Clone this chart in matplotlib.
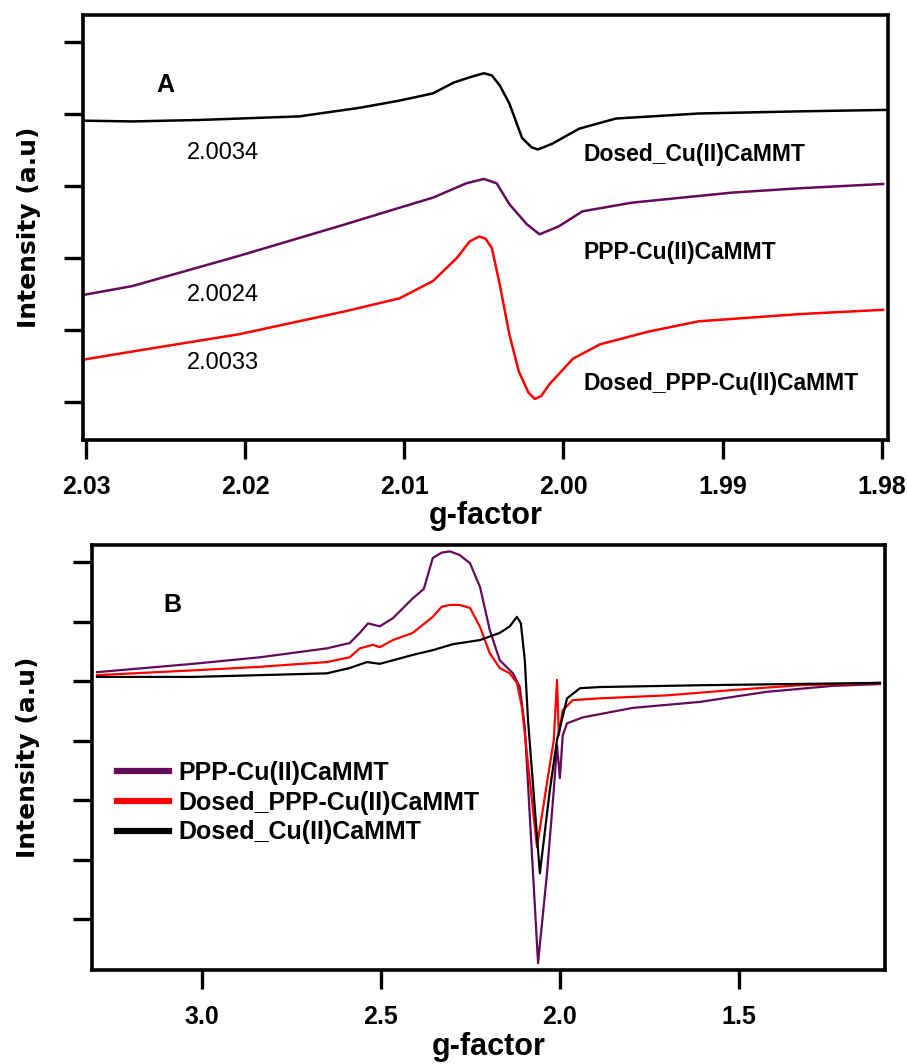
import matplotlib
matplotlib.use("Agg")
import matplotlib.pyplot as plt

# ---------------- panel A data (g-factor, intensity a.u.) ----------------
gA_black = [2.0301, 2.0271, 2.0229, 2.0166, 2.0128, 2.0103, 2.0082, 2.0069, 2.0058,
            2.0050, 2.0045, 2.0040, 2.0034, 2.0026, 2.0020, 2.0016, 2.0007, 1.9990,
            1.9967, 1.9915, 1.9852, 1.9797]
yA_black = [3.91, 3.90, 3.92, 3.97, 4.09, 4.19, 4.29, 4.44, 4.52,
            4.57, 4.54, 4.40, 4.15, 3.67, 3.54, 3.51, 3.59, 3.80,
            3.94, 4.01, 4.04, 4.06]

gA_purple = [2.0301, 2.0271, 2.0204, 2.0137, 2.0103, 2.0082, 2.0061, 2.0050, 2.0042,
             2.0034, 2.0023, 2.0015, 2.0003, 1.9988, 1.9957, 1.9894, 1.9852, 1.9799]
yA_purple = [1.49, 1.61, 2.03, 2.47, 2.70, 2.84, 3.04, 3.10, 3.04,
             2.75, 2.47, 2.33, 2.44, 2.65, 2.77, 2.91, 2.97, 3.03]

gA_red = [2.0301, 2.0271, 2.0204, 2.0137, 2.0103, 2.0082, 2.0067, 2.0059, 2.0053,
          2.0049, 2.0045, 2.0040, 2.0034, 2.0028, 2.0022, 2.0018, 2.0014, 2.0009,
          1.9994, 1.9977, 1.9946, 1.9915, 1.9852, 1.9799]
yA_red = [0.59, 0.70, 0.94, 1.26, 1.44, 1.68, 2.00, 2.23, 2.30,
          2.27, 2.14, 1.63, 0.94, 0.42, 0.13, 0.04, 0.08, 0.24,
          0.60, 0.80, 0.98, 1.12, 1.22, 1.28]

# ---------------- panel B data ----------------
gB_purple = [3.293, 3.025, 2.838, 2.651, 2.587, 2.559, 2.536, 2.503, 2.466, 2.411,
             2.380, 2.355, 2.330, 2.307, 2.280, 2.251, 2.223, 2.196, 2.168, 2.131,
             2.112, 2.098, 2.061, 2.036, 2.017, 2.008, 2.000, 1.992, 1.980, 1.936,
             1.796, 1.609, 1.422, 1.237, 1.106]
yB_purple = [0.15, 0.29, 0.40, 0.55, 0.64, 0.81, 0.97, 0.92, 1.06, 1.39,
             1.55, 2.07, 2.16, 2.18, 2.12, 1.98, 1.58, 0.86, 0.35, 0.13,
             -0.10, -0.77, -4.74, -3.23, -1.83, -1.08, -1.63, -0.91, -0.71, -0.61,
             -0.45, -0.35, -0.18, -0.08, -0.05]

gB_red = [3.293, 3.025, 2.838, 2.651, 2.587, 2.559, 2.522, 2.503, 2.466, 2.411,
          2.355, 2.330, 2.307, 2.280, 2.251, 2.223, 2.196, 2.168, 2.140, 2.120,
          2.106, 2.064, 2.036, 2.017, 2.008, 2.003, 1.992, 1.964, 1.888, 1.701,
          1.517, 1.330, 1.106]
yB_red = [0.10, 0.18, 0.24, 0.32, 0.40, 0.55, 0.61, 0.57, 0.69, 0.81,
          1.08, 1.25, 1.28, 1.28, 1.23, 0.91, 0.47, 0.22, 0.13, -0.03,
          -0.44, -2.79, -1.71, -0.99, 0.02, -0.91, -0.49, -0.32, -0.29, -0.24,
          -0.15, -0.07, -0.03]

gB_black = [3.293, 3.025, 2.838, 2.651, 2.587, 2.539, 2.503, 2.466, 2.411, 2.355,
            2.299, 2.223, 2.168, 2.140, 2.120, 2.109, 2.098, 2.089, 2.056, 2.028,
            2.008, 1.980, 1.944, 1.888, 1.609, 1.106]
yB_black = [0.07, 0.07, 0.10, 0.13, 0.22, 0.32, 0.29, 0.35, 0.44, 0.52,
            0.62, 0.69, 0.81, 0.92, 1.08, 0.97, 0.35, -0.66, -3.23, -1.83,
            -0.99, -0.29, -0.12, -0.10, -0.07, -0.03]

labels_A = ["Dosed_Cu(II)CaMMT", "PPP-Cu(II)CaMMT", "Dosed_PPP-Cu(II)CaMMT"]
gvalues_A = ["2.0034", "2.0024", "2.0033"]
legend_B = ["PPP-Cu(II)CaMMT", "Dosed_PPP-Cu(II)CaMMT", "Dosed_Cu(II)CaMMT"]

purple = "#640a5a"
red = "#ff0000"
black = "#000000"

plt.rcParams['font.family'] = 'Liberation Sans'

fig = plt.figure(figsize=(9.07, 10.64), dpi=100)
axA = fig.add_axes([0.0915, 0.5865, 0.8875, 0.3994])
axB = fig.add_axes([0.1014, 0.0883, 0.8743, 0.3994])


def style_axes(ax):
    for s in ax.spines.values():
        s.set_linewidth(2.6)
    ax.tick_params(axis='both', direction='out', length=14, width=2.4, pad=11,
                   labelsize=18)
    ax.tick_params(axis='y', labelleft=False)
    for lab in ax.get_xticklabels():
        lab.set_fontweight('bold')
    ax.set_xlabel("g-factor", fontsize=22, fontweight='bold', labelpad=2)
    ax.set_ylabel("Intensity (a.u)", fontsize=18, fontweight='bold',
                  family='DejaVu Sans')


# panel A
axA.plot(gA_black, yA_black, color=black, lw=1.8)
axA.plot(gA_purple, yA_purple, color=purple, lw=1.8)
axA.plot(gA_red, yA_red, color=red, lw=1.8)
axA.set_xlim(2.0302, 1.9796)
axA.set_ylim(-0.53, 5.38)
axA.set_xticks([2.03, 2.02, 2.01, 2.00, 1.99, 1.98])
axA.set_xticklabels(["2.03", "2.02", "2.01", "2.00", "1.99", "1.98"])
axA.set_yticks([0, 1, 2, 3, 4, 5])
style_axes(axA)
axA.yaxis.set_label_coords(-0.052, 0.5)

axA.text(0.102, 0.835, "A", transform=axA.transAxes, fontsize=18,
         fontweight='bold', ha='center', va='center')
for txt, yy in zip(gvalues_A, [0.675, 0.341, 0.181]):
    axA.text(0.174, yy, txt, transform=axA.transAxes, fontsize=17,
             ha='center', va='center')
for txt, yy in zip(labels_A, [0.671, 0.442, 0.134]):
    axA.text(0.622, yy, txt, transform=axA.transAxes, fontsize=16.5,
             fontweight='bold', ha='left', va='center')

# panel B
axB.plot(gB_purple, yB_purple, color=purple, lw=1.6, label=legend_B[0])
axB.plot(gB_red, yB_red, color=red, lw=1.6, label=legend_B[1])
axB.plot(gB_black, yB_black, color=black, lw=1.6, label=legend_B[2])
axB.set_xlim(3.307, 1.092)
axB.set_ylim(-4.857, 2.286)
axB.set_xticks([3.0, 2.5, 2.0, 1.5])
axB.set_xticklabels(["3.0", "2.5", "2.0", "1.5"])
axB.set_yticks([-4, -3, -2, -1, 0, 1, 2])
style_axes(axB)
axB.yaxis.set_label_coords(-0.066, 0.5)

axB.text(0.102, 0.859, "B", transform=axB.transAxes, fontsize=18,
         fontweight='bold', ha='center', va='center')
leg = axB.legend(loc='upper left', bbox_to_anchor=(0.032, 0.492), frameon=False,
                 prop={'size': 18, 'weight': 'bold'}, handlelength=2.05,
                 handletextpad=0.4, labelspacing=0.23, borderpad=0,
                 borderaxespad=0)
for ln in leg.get_lines():
    ln.set_linewidth(4.5)

fig.savefig("out.png", dpi=100)
